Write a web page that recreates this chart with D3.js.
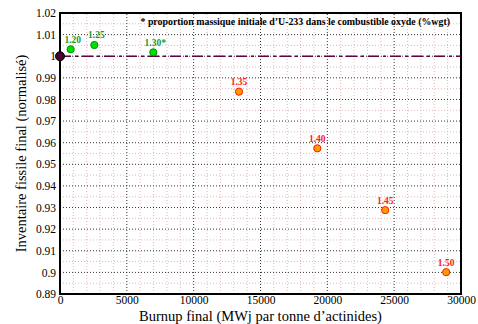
<!DOCTYPE html>
<html>
<head>
<meta charset="utf-8">
<script src="https://cdn.jsdelivr.net/npm/d3@7"></script>
<style>
body { margin: 0; background: #fff; }
text { font-family: "Liberation Serif", "DejaVu Serif", serif !important; }
</style>
</head>
<body>
<div id="chart"></div>
<script>
// burnup (MWj/t) and normalised fissile inventory
var labels = ['1.20', '1.25', '1.30*', '1.35', '1.40', '1.45', '1.50']
var burnup = [800, 2570, 6980, 13390, 19250, 24330, 28890]
var inventory = [1.0032, 1.0052, 1.0018, 0.9836, 0.9574, 0.9288, 0.9001]
var xTicks = [0, 5000, 10000, 15000, 20000, 25000, 30000]
var yTicks = [0.89, 0.9, 0.91, 0.92, 0.93, 0.94, 0.95, 0.96, 0.97, 0.98, 0.99, 1, 1.01, 1.02]

var W = 478, H = 324
var m = {left: 60, right: 17, top: 13, bottom: 30}

var svg = d3.select('#chart').append('svg')
    .attr('width', W)
    .attr('height', H)

var x = d3.scaleLinear().domain([0, 30000]).range([m.left, W - m.right])
var y = d3.scaleLinear().domain([0.89, 1.02]).range([H - m.bottom, m.top])

// minor grid (pink dotted)
var minorX = d3.range(1000, 30000, 1000).filter(function(d) { return d % 5000 != 0 })
var minorY = d3.range(0, 13).map(function(i) { return 0.895 + i * 0.01 })
var grid = svg.append('g')
grid.selectAll('.mx').data(minorX).enter().append('line')
    .attr('x1', d => x(d)).attr('x2', d => x(d))
    .attr('y1', y(0.89)).attr('y2', y(1.02))
    .attr('stroke', '#e4b8b8').attr('stroke-width', 1).attr('stroke-dasharray', '1,2')
grid.selectAll('.my').data(minorY).enter().append('line')
    .attr('y1', d => y(d)).attr('y2', d => y(d))
    .attr('x1', x(0)).attr('x2', x(30000))
    .attr('stroke', '#e4b8b8').attr('stroke-width', 1).attr('stroke-dasharray', '1,2')

// major grid (black dotted)
grid.selectAll('.Mx').data(xTicks.slice(1, -1)).enter().append('line')
    .attr('x1', d => x(d)).attr('x2', d => x(d))
    .attr('y1', y(0.89)).attr('y2', y(1.02))
    .attr('stroke', '#333').attr('stroke-width', 1).attr('stroke-dasharray', '1,2')
grid.selectAll('.My').data(yTicks.slice(1, -1)).enter().append('line')
    .attr('y1', d => y(d)).attr('y2', d => y(d))
    .attr('x1', x(0)).attr('x2', x(30000))
    .attr('stroke', '#333').attr('stroke-width', 1).attr('stroke-dasharray', '1,2')

// frame
svg.append('rect')
    .attr('x', x(0)).attr('y', y(1.02))
    .attr('width', x(30000) - x(0)).attr('height', y(0.89) - y(1.02))
    .attr('fill', 'none').attr('stroke', '#000').attr('stroke-width', 2)

// axes
var xAxis = svg.append('g')
    .attr('transform', 'translate(0,' + y(0.89) + ')')
    .call(d3.axisBottom(x).tickValues(xTicks).tickSize(0).tickPadding(2).tickFormat(d3.format('d')))
var yAxis = svg.append('g')
    .attr('transform', 'translate(' + x(0) + ',0)')
    .call(d3.axisLeft(y).tickValues(yTicks).tickSize(0).tickPadding(4).tickFormat(d => +d.toFixed(2)))
xAxis.select('.domain').remove()
yAxis.select('.domain').remove()
svg.selectAll('.tick text')
    .attr('font-size', 11.5)
    .attr('fill', '#000')

// reference line at 1
svg.append('line')
    .attr('x1', x(0)).attr('x2', x(30000))
    .attr('y1', y(1)).attr('y2', y(1))
    .attr('stroke', '#660044').attr('stroke-width', 1.6)
    .attr('stroke-dasharray', '11,4,3,4')
svg.append('circle')
    .attr('cx', x(0)).attr('cy', y(1)).attr('r', 4.5)
    .attr('fill', '#4a0028').attr('stroke', '#000').attr('stroke-width', 1)

// points
var pts = svg.append('g')
burnup.forEach(function(b, i) {
    var green = inventory[i] > 1
    pts.append('circle')
        .attr('cx', x(b)).attr('cy', y(inventory[i])).attr('r', 3.6)
        .attr('fill', green ? '#00e000' : '#ff9a00')
        .attr('stroke', green ? '#009000' : '#ff1a00')
        .attr('stroke-width', 1)
    pts.append('text')
        .attr('x', x(b) + (green ? 2 : 0)).attr('y', y(inventory[i]) - 6.5)
        .attr('text-anchor', 'middle')
        .attr('font-size', 9.5).attr('font-weight', 'bold')
        .attr('fill', green ? '#1a9a1a' : '#ff2020')
        .text(labels[i])
})

// note
svg.append('text')
    .attr('x', 450).attr('y', 25)
    .attr('text-anchor', 'end')
    .attr('font-size', 9.9).attr('font-weight', 'bold')
    .text('* proportion massique initiale d\u2019U-233 dans le combustible oxyde (%wgt)')

// axis titles
svg.append('text')
    .attr('x', (x(0) + x(30000)) / 2).attr('y', H - 3.5)
    .attr('text-anchor', 'middle').attr('font-size', 14.5)
    .text('Burnup final (MWj par tonne d\u2019actinides)')
svg.append('text')
    .attr('transform', 'translate(26,' + ((y(0.89) + y(1.02)) / 2) + ') rotate(-90)')
    .attr('text-anchor', 'middle').attr('font-size', 14.5)
    .text('Inventaire fissile final (normalisé)')
</script>
</body>
</html>
